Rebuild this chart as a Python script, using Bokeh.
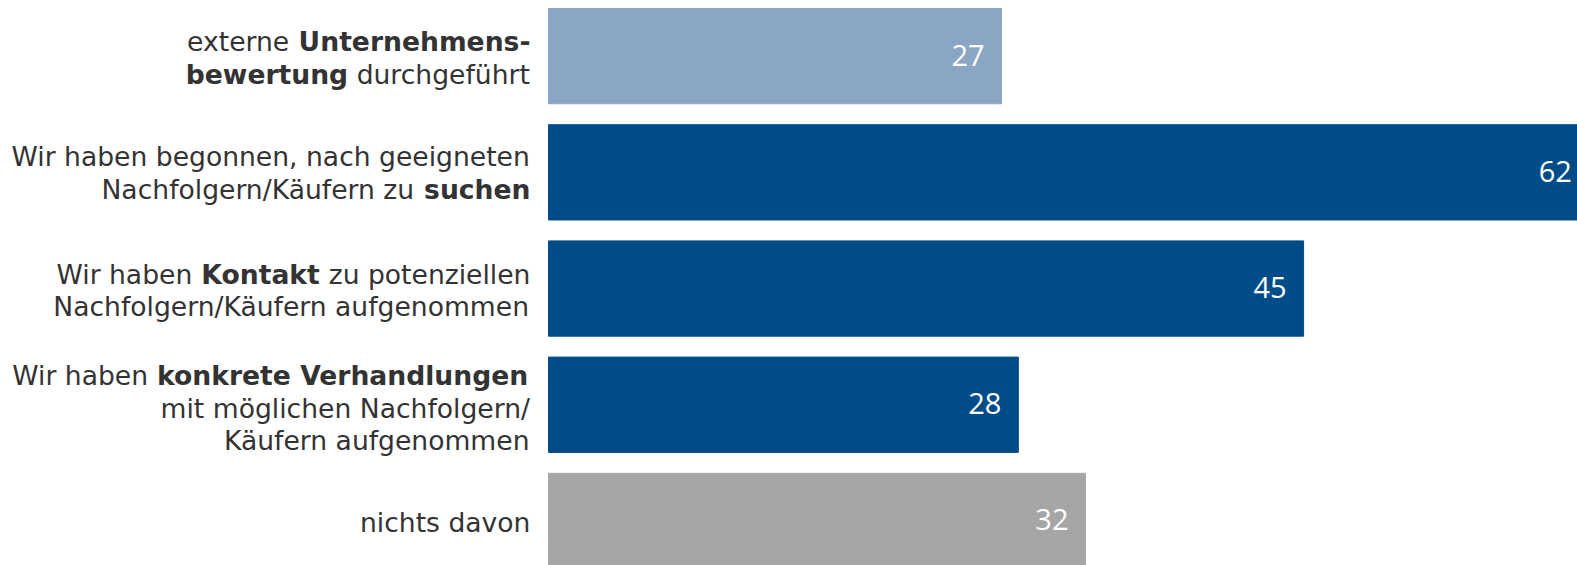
import glob
import struct

from bokeh.core.properties import value
from bokeh.embed import file_html
from bokeh.models import ColumnDataSource, Range1d
from bokeh.plotting import figure
from bokeh.resources import INLINE

# ---------------- data ----------------
categories = [
    "externe Unternehmensbewertung durchgeführt",
    "Wir haben begonnen, nach geeigneten Nachfolgern/Käufern zu suchen",
    "Wir haben Kontakt zu potenziellen Nachfolgern/Käufern aufgenommen",
    "Wir haben konkrete Verhandlungen mit möglichen Nachfolgern/Käufern aufgenommen",
    "nichts davon",
]
# label layout: "\n" = line break, "**...**" = bold
label_markup = [
    "externe **Unternehmens-**\n**bewertung** durchgeführt",
    "Wir haben begonnen, nach geeigneten\nNachfolgern/Käufern zu **suchen**",
    "Wir haben **Kontakt** zu potenziellen\nNachfolgern/Käufern aufgenommen",
    "Wir haben **konkrete Verhandlungen**\nmit möglichen Nachfolgern/\nKäufern aufgenommen",
    "nichts davon",
]
values = [27, 62, 45, 28, 32]
bar_colors = ["#8BA6C4", "#004C88", "#004C88", "#004C88", "#A6A6A6"]

# ---------------- styles ----------------
LABEL_FONT = "DejaVu Sans"
LABEL_SIZE = 26.6
LABEL_COLOR = "#333333"
LINE_H = 32.5
LABEL_GAP = 18
LABEL_BASE_DY = 1.75
LABEL_NUDGE = [0, -1, 0, 2, 0]
VALUE_FONT = "Open Sans"
VALUE_SIZE = 29


# ---------------- text measuring (reads TTF advance widths) ----------------
def load_metrics(path):
    data = open(path, "rb").read()
    num_tables = struct.unpack(">H", data[4:6])[0]
    tables = {}
    for i in range(num_tables):
        tag, _cs, off, ln = struct.unpack(">4sIII", data[12 + 16 * i:28 + 16 * i])
        tables[tag.decode("latin1")] = (off, ln)
    off = tables["head"][0]
    upem = struct.unpack(">H", data[off + 18:off + 20])[0]
    off = tables["hhea"][0]
    nhm = struct.unpack(">H", data[off + 34:off + 36])[0]
    off = tables["hmtx"][0]
    adv = [struct.unpack(">H", data[off + 4 * i:off + 4 * i + 2])[0] for i in range(nhm)]
    off = tables["cmap"][0]
    n = struct.unpack(">H", data[off + 2:off + 4])[0]
    sub = None
    for i in range(n):
        pid, eid, so = struct.unpack(">HHI", data[off + 4 + 8 * i:off + 12 + 8 * i])
        fmt = struct.unpack(">H", data[off + so:off + so + 2])[0]
        if fmt == 4:
            sub = off + so
            break
    segx2 = struct.unpack(">H", data[sub + 6:sub + 8])[0]
    segc = segx2 // 2
    ends = struct.unpack(">%dH" % segc, data[sub + 14:sub + 14 + segx2])
    so_ = sub + 16 + segx2
    starts = struct.unpack(">%dH" % segc, data[so_:so_ + segx2])
    do_ = so_ + segx2
    deltas = struct.unpack(">%dh" % segc, data[do_:do_ + segx2])
    ro_ = do_ + segx2
    ros = struct.unpack(">%dH" % segc, data[ro_:ro_ + segx2])

    def gid(ch):
        c = ord(ch)
        for i in range(segc):
            if c <= ends[i]:
                if c < starts[i]:
                    return 0
                if ros[i] == 0:
                    return (c + deltas[i]) & 0xFFFF
                addr = ro_ + 2 * i + ros[i] + 2 * (c - starts[i])
                g = struct.unpack(">H", data[addr:addr + 2])[0]
                return (g + deltas[i]) & 0xFFFF if g else 0
        return 0

    def width(s, size):
        return sum(adv[min(gid(ch), nhm - 1)] for ch in s) * size / upem

    return width


def find_font(name):
    hits = glob.glob("/usr/share/fonts/**/" + name, recursive=True)
    hits += glob.glob("/usr/local/share/fonts/**/" + name, recursive=True)
    return hits[0] if hits else None


def make_measurer(fname, factor):
    path = find_font(fname)
    if path:
        try:
            return load_metrics(path)
        except Exception:
            pass
    return lambda s, size: len(s) * size * factor


measure = {
    False: make_measurer("DejaVuSans.ttf", 0.62),
    True: make_measurer("DejaVuSans-Bold.ttf", 0.70),
}


def parse_line(line):
    parts = line.split("**")
    return [(t, i % 2 == 1) for i, t in enumerate(parts) if t]


# ---------------- figure ----------------
W, H = 1577, 565
ROW_PX = 116.2
BAR_H = 0.82
X0_PX = 548          # where value 0 sits
TOP_PX = 8           # top of the first bar
PX_PER_UNIT = 16.78
row_top = -BAR_H / 2 - TOP_PX / ROW_PX

p = figure(
    width=W, height=H,
    x_range=Range1d(-X0_PX / PX_PER_UNIT, (W - X0_PX) / PX_PER_UNIT),
    y_range=Range1d(row_top + H / ROW_PX, row_top),
    output_backend="svg", toolbar_location=None,
    min_border=0, outline_line_color=None,
)
p.xaxis.visible = False
p.yaxis.visible = False
p.grid.visible = False
p.background_fill_color = "white"
p.border_fill_color = "white"

rows = list(range(len(values)))
bars = ColumnDataSource(dict(y=rows, right=values, color=bar_colors, cat=categories,
                             lbl=[str(v) for v in values]))
p.hbar(y="y", left=0, right="right", height=BAR_H, fill_color="color",
       line_color="color", source=bars)

p.text(x="right", y="y", text="lbl", source=bars, x_offset=-17, y_offset=-1,
       text_align="right", text_baseline="alphabetic", text_color="white",
       text_font=value(VALUE_FONT), text_font_size=f"{VALUE_SIZE}px")

# category labels, with mixed bold segments, right-aligned left of the bars
seg = {False: dict(x=[], y=[], t=[], xo=[], yo=[]), True: dict(x=[], y=[], t=[], xo=[], yo=[])}
for r, markup in enumerate(label_markup):
    lines = markup.split("\n")
    n = len(lines)
    for k, line in enumerate(lines):
        parts = parse_line(line)
        total = sum(measure[b](t, LABEL_SIZE) for t, b in parts)
        cur = -LABEL_GAP - total
        for t, b in parts:
            core = t.strip(" ")
            lead = t[: len(t) - len(t.lstrip(" "))]
            if core:
                d = seg[b]
                d["x"].append(0)
                d["y"].append(r)
                d["t"].append(core)
                d["xo"].append(cur + measure[b](lead, LABEL_SIZE))
                d["yo"].append(LABEL_BASE_DY + LABEL_NUDGE[r] + (k - (n - 1) / 2) * LINE_H)
            cur += measure[b](t, LABEL_SIZE)

for b, d in seg.items():
    src = ColumnDataSource(d)
    p.text(x="x", y="y", text="t", x_offset="xo", y_offset="yo", source=src,
           text_align="left", text_baseline="alphabetic", text_color=LABEL_COLOR,
           text_font=value(LABEL_FONT), text_font_size=f"{LABEL_SIZE}px",
           text_font_style="bold" if b else "normal")

open("out.html", "w").write(file_html(p, INLINE))
